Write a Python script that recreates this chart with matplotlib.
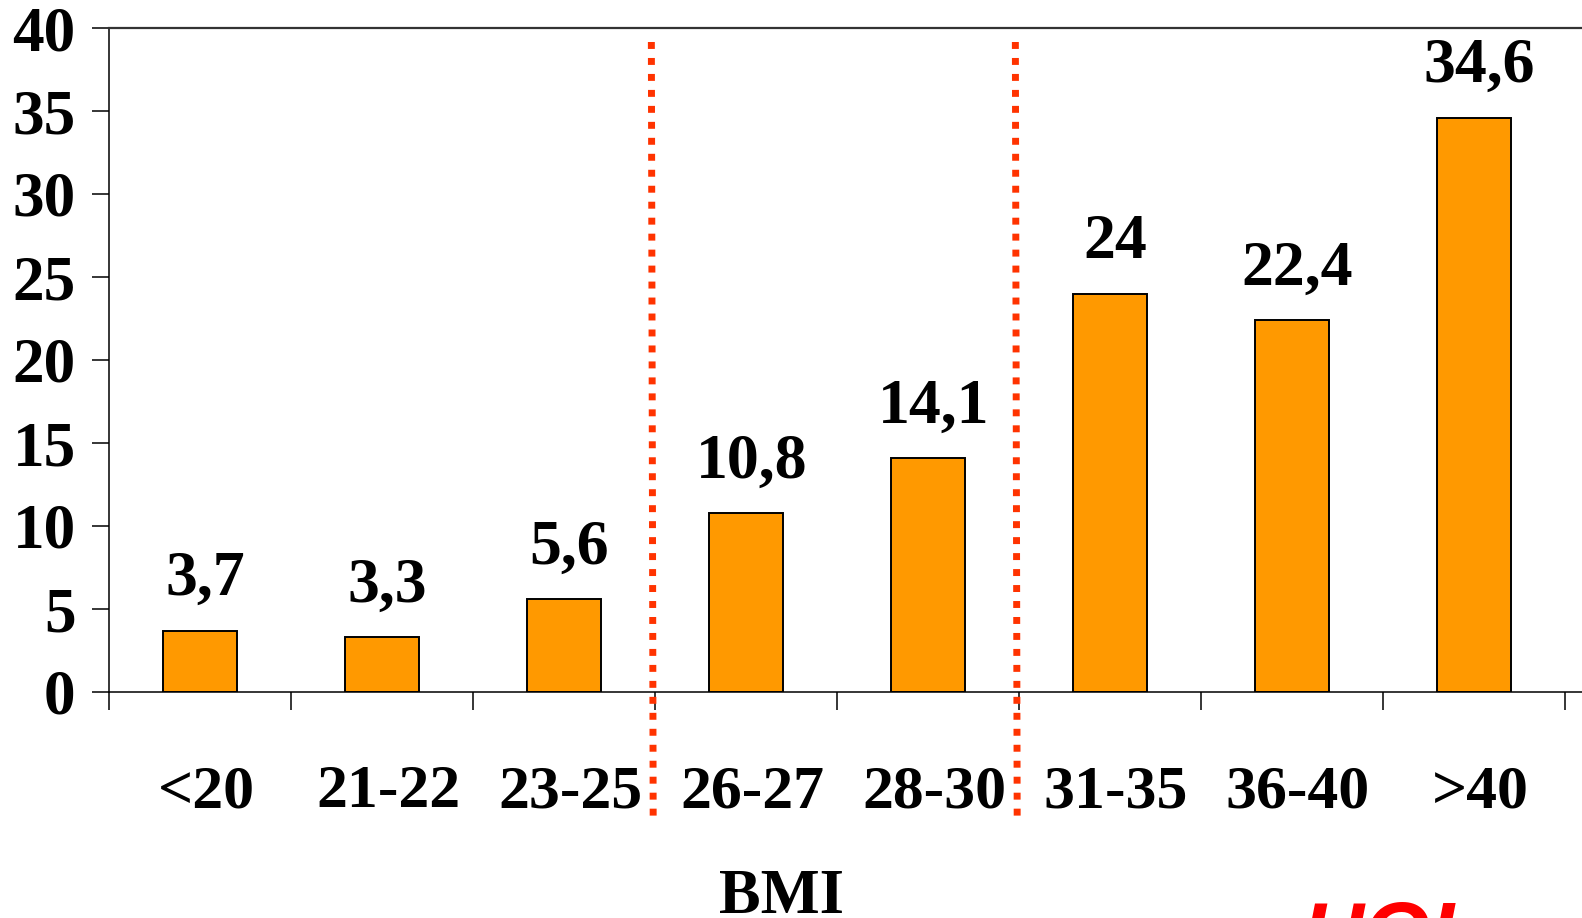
import matplotlib
matplotlib.use("Agg")
import matplotlib.pyplot as plt
from matplotlib.transforms import ScaledTranslation

categories = ['<20', '21-22', '23-25', '26-27', '28-30', '31-35', '36-40', '>40']
values = [3.7, 3.3, 5.6, 10.8, 14.1, 24, 22.4, 34.6]
value_labels = ['3,7', '3,3', '5,6', '10,8', '14,1', '24', '22,4', '34,6']
yticks = [0, 5, 10, 15, 20, 25, 30, 35, 40]
divider_positions = [2.5, 4.5]
xlabel = 'BMI'
logo_text = 'HOL'

W, H = 1582, 918
fig = plt.figure(figsize=(W / 100, H / 100), dpi=100)
plt.rcParams['font.family'] = ['Liberation Serif', 'DejaVu Serif']

left_px, right_px, top_px, zero_px = 109, 1582, 28, 692
ax = fig.add_axes([left_px / W, (H - zero_px) / H, (right_px - left_px) / W, (zero_px - top_px) / H])

cat_w = 182.0
x = list(range(len(categories)))
ax.bar(x, values, width=0.41, color='#FF9900', edgecolor='black', linewidth=1.4, zorder=2)

ax.set_xlim(-0.5, -0.5 + (right_px - left_px) / cat_w)
ax.set_ylim(0, 40)

ax.set_yticks(yticks)
ax.set_yticklabels([str(v) for v in yticks], fontsize=45.5, fontweight='bold')
ax.tick_params(axis='y', direction='out', length=12, width=1.1, pad=12, color='black')

ax.set_xticks(x)
ax.set_xticklabels(categories, fontsize=44.5, fontweight='bold')
ax.tick_params(axis='x', which='major', length=0, pad=52)
shift = ScaledTranslation(6 / 100, 0, fig.dpi_scale_trans)
for lbl in ax.get_xticklabels():
    lbl.set_transform(lbl.get_transform() + shift)
ax.set_xticks([i - 0.5 for i in range(len(categories) + 1)], minor=True)
ax.tick_params(axis='x', which='minor', direction='out', length=13, width=1.1, color='black')

ax.spines['right'].set_visible(False)
ax.spines['left'].set_linewidth(1.1)
ax.spines['bottom'].set_linewidth(1.1)
ax.spines['top'].set_linewidth(1.6)
ax.spines['top'].set_color('#333333')

for xi, v, lab in zip(x, values, value_labels):
    ax.annotate(lab, (xi, v), xytext=(4, 25.5), textcoords='offset points',
                ha='center', va='baseline', fontsize=46, fontweight='bold')

# red dotted dividers
y_top = 40 - (42 - top_px) / ((zero_px - top_px) / 40)
y_bot = -(817 - zero_px) / ((zero_px - top_px) / 40)
for xp in divider_positions:
    ax.plot([xp - 0.02, xp - 0.01], [y_top, y_bot], color='#FF3300', linewidth=5,
            dashes=(1.0, 1.3), dash_capstyle='butt', clip_on=False, zorder=3)

fig.text(781 / W, (H - 913) / H, xlabel, ha='center', va='baseline', fontsize=45, fontweight='bold')

fig.text(1392 / W, (H - 962) / H, logo_text, ha='center', va='baseline', fontsize=62,
         fontweight='bold', fontstyle='italic', color='#FF0000', family=['Liberation Sans', 'DejaVu Sans'])

fig.savefig('out.png', dpi=100)
